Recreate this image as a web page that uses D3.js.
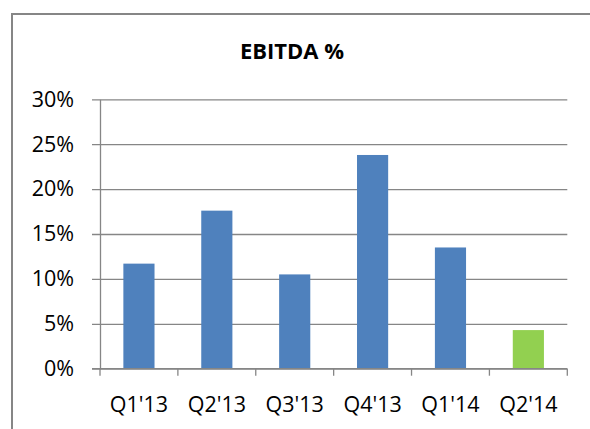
<!DOCTYPE html>
<html>
<head>
<meta charset="utf-8">
<script src="https://cdn.jsdelivr.net/npm/d3@7"></script>
<style>
  html, body { margin: 0; padding: 0; background: #fff; }
  svg { display: block; }
</style>
</head>
<body>
<svg id="chart" width="590" height="429"></svg>
<script>
const categories = ["Q1'13", "Q2'13", "Q3'13", "Q4'13", "Q1'14", "Q2'14"];
const values = [0.117, 0.176, 0.105, 0.238, 0.135, 0.043];
const barColors = ["#4F81BD", "#4F81BD", "#4F81BD", "#4F81BD", "#4F81BD", "#92D050"];
const yTicks = [0, 0.05, 0.10, 0.15, 0.20, 0.25, 0.30];
const title = "EBITDA %";

(function () {
const svg = d3.select("#chart");
const font = "'Open Sans', 'Noto Sans', sans-serif";

// chart border (extends past right/bottom edges)
svg.append("path")
  .attr("d", "M12,440 L12,14 L600,14")
  .attr("fill", "none")
  .attr("stroke", "#868686")
  .attr("stroke-width", 2);

const pLeft = 100, pRight = 567.3, pTop = 99.3, pBottom = 368.7;

const x = d3.scaleBand().domain(categories).range([pLeft, pRight]).paddingInner(0.6).paddingOuter(0.3);
const y = d3.scaleLinear().domain([0, 0.30]).range([pBottom, pTop]);

// gridlines + y axis
const yAxis = d3.axisLeft(y).tickValues(yTicks).tickFormat(d3.format(".0%"))
  .tickSize(-(pRight - pLeft)).tickSizeOuter(0).tickPadding(26);
const gy = svg.append("g").attr("transform", `translate(${pLeft},0)`).call(yAxis);
gy.select(".domain").attr("stroke", "#868686").attr("stroke-width", 1.3);
gy.selectAll(".tick line").attr("stroke", "#868686").attr("stroke-width", 1.3).attr("x1", -8);
gy.selectAll(".tick text")
  .attr("font-family", font).attr("font-size", 21.5).attr("fill", "#000");

// bars
svg.append("g").selectAll("rect").data(values).join("rect")
  .attr("x", (d, i) => x(categories[i]))
  .attr("width", x.bandwidth())
  .attr("y", d => y(d))
  .attr("height", d => y(0) - y(d))
  .attr("fill", (d, i) => barColors[i]);

// x axis
const gx = svg.append("g").attr("transform", `translate(0,${pBottom})`);
gx.append("line").attr("x1", pLeft - 8).attr("x2", pRight).attr("y1", 0).attr("y2", 0)
  .attr("stroke", "#868686").attr("stroke-width", 1.3);
const step = x.step();
const boundaries = d3.range(categories.length + 1).map(i => pLeft + i * step);
gx.selectAll("line.tk").data(boundaries).join("line").attr("class", "tk")
  .attr("x1", d => d).attr("x2", d => d).attr("y1", 0).attr("y2", 7)
  .attr("stroke", "#868686").attr("stroke-width", 1.3);
gx.selectAll("text").data(categories).join("text")
  .attr("x", d => x(d) + x.bandwidth() / 2)
  .attr("y", 43.5)
  .attr("text-anchor", "middle")
  .attr("font-family", font).attr("font-size", 21.5).attr("fill", "#000")
  .text(d => d);

// title
svg.append("text")
  .attr("x", 292).attr("y", 59)
  .attr("text-anchor", "middle")
  .attr("font-family", font).attr("font-weight", "bold").attr("font-size", 22)
  .attr("fill", "#000")
  .text(title);
})();
</script>
</body>
</html>
